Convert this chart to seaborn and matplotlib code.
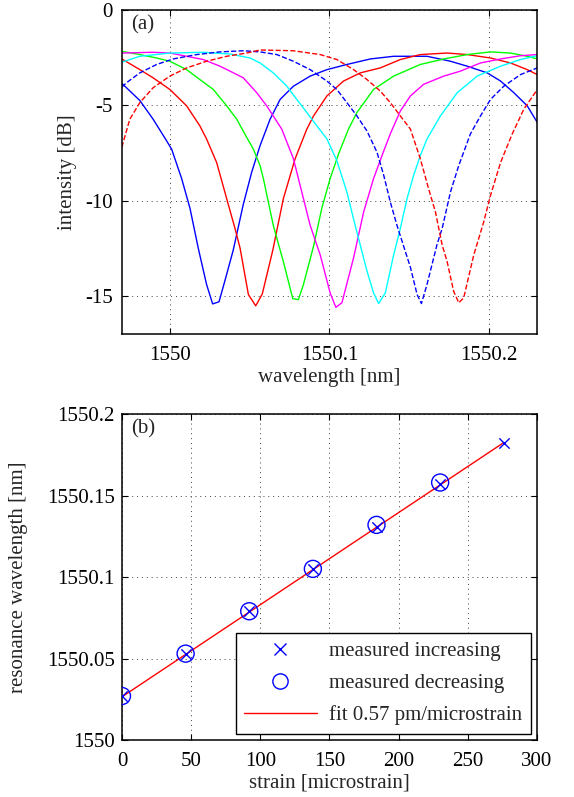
import numpy as np
import pandas as pd
import matplotlib
matplotlib.use("Agg")
import matplotlib.pyplot as plt
from matplotlib.ticker import FuncFormatter, FixedLocator
from matplotlib.lines import Line2D
import seaborn as sns

# ---------------- data: panel (a) spectra (wavelength nm, intensity dB) ----------------
blue_wl = [1549.9699, 1549.9812, 1549.9895, 1549.9966, 1550.0011, 1550.0074, 1550.0126, 1550.0178,
           1550.0230, 1550.0268, 1550.0308, 1550.0345, 1550.0397, 1550.0460, 1550.0513, 1550.0565,
           1550.0628, 1550.0691, 1550.0774, 1550.0879, 1550.0984, 1550.1109, 1550.1256, 1550.1402,
           1550.1611, 1550.1758, 1550.1863, 1550.1988, 1550.2072, 1550.2155, 1550.2239, 1550.2302]
blue_db = [-3.85, -4.75, -5.73, -6.68, -7.30, -8.85, -10.40, -12.50,
           -14.40, -15.42, -15.31, -14.20, -12.60, -10.20, -8.50, -7.12,
           -5.73, -4.69, -4.00, -3.47, -3.13, -2.86, -2.57, -2.43,
           -2.43, -2.69, -2.95, -3.30, -3.73, -4.34, -5.03, -5.90]

red_wl = [1549.9699, 1549.9812, 1549.9895, 1550.0000, 1550.0105, 1550.0188, 1550.0230, 1550.0293,
          1550.0356, 1550.0408, 1550.0440, 1550.0492, 1550.0538, 1550.0579, 1550.0645, 1550.0711,
          1550.0785, 1550.0858, 1550.0900, 1550.0984, 1550.1088, 1550.1193, 1550.1318, 1550.1444,
          1550.1569, 1550.1737, 1550.1863, 1550.2009, 1550.2134, 1550.2239, 1550.2302]
red_db = [-2.57, -3.13, -3.56, -4.17, -5.03, -6.08, -6.77, -8.00,
          -9.90, -11.46, -12.50, -14.93, -15.52, -14.90, -12.60, -9.90,
          -7.80, -6.25, -5.56, -4.51, -3.73, -3.30, -3.04, -2.60,
          -2.34, -2.26, -2.34, -2.52, -2.78, -3.13, -3.39]

green_wl = [1549.9699, 1549.9812, 1549.9917, 1550.0000, 1550.0105, 1550.0188, 1550.0272, 1550.0356,
            1550.0419, 1550.0476, 1550.0523, 1550.0565, 1550.0586, 1550.0648, 1550.0711, 1550.0770,
            1550.0805, 1550.0837, 1550.0900, 1550.0952, 1550.1004, 1550.1057, 1550.1119, 1550.1172,
            1550.1276, 1550.1402, 1550.1569, 1550.1716, 1550.1863, 1550.2009, 1550.2134, 1550.2239,
            1550.2302]
green_db = [-2.17, -2.34, -2.52, -2.69, -3.13, -3.65, -4.17, -5.03,
            -5.73, -6.60, -7.30, -8.16, -8.85, -11.30, -13.20, -15.14,
            -15.20, -14.40, -12.40, -10.40, -8.85, -7.55, -6.25, -5.38,
            -4.17, -3.47, -2.86, -2.57, -2.34, -2.20, -2.26, -2.43,
            -2.57]

magenta_wl = [1549.9699, 1549.9895, 1550.0000, 1550.0105, 1550.0209, 1550.0314, 1550.0377, 1550.0460,
              1550.0544, 1550.0607, 1550.0701, 1550.0774, 1550.0837, 1550.0879, 1550.0942, 1550.1004,
              1550.1040, 1550.1078, 1550.1151, 1550.1214, 1550.1276, 1550.1329, 1550.1381, 1550.1444,
              1550.1507, 1550.1590, 1550.1716, 1550.1820, 1550.1946, 1550.2072, 1550.2197, 1550.2302]
magenta_db = [-2.26, -2.22, -2.26, -2.43, -2.60, -2.95, -3.21, -3.56,
              -4.34, -5.03, -6.25, -7.80, -9.90, -11.30, -12.85, -14.84,
              -15.60, -15.36, -13.00, -10.60, -8.85, -7.64, -6.50, -5.30,
              -4.51, -3.90, -3.47, -3.21, -2.78, -2.57, -2.40, -2.34]

cyan_wl = [1549.9699, 1549.9812, 1550.0000, 1550.0209, 1550.0377, 1550.0502, 1550.0565, 1550.0648,
           1550.0733, 1550.0795, 1550.0858, 1550.0921, 1550.0984, 1550.1046, 1550.1109, 1550.1161,
           1550.1235, 1550.1276, 1550.1308, 1550.1350, 1550.1402, 1550.1444, 1550.1486, 1550.1527,
           1550.1569, 1550.1611, 1550.1695, 1550.1800, 1550.1925, 1550.2072, 1550.2197, 1550.2302]
cyan_db = [-2.74, -2.43, -2.26, -2.22, -2.31, -2.52, -2.78, -3.30,
           -4.00, -4.69, -5.38, -6.08, -6.77, -7.90, -9.55, -11.30,
           -13.70, -14.84, -15.40, -14.84, -12.85, -11.46, -9.90, -8.68,
           -7.64, -6.77, -5.56, -4.34, -3.47, -2.95, -2.60, -2.40]

bluedash_wl = [1549.9699, 1549.9728, 1549.9812, 1549.9917, 1550.0021, 1550.0168, 1550.0314, 1550.0460,
               1550.0565, 1550.0670, 1550.0774, 1550.0879, 1550.0984, 1550.1046, 1550.1109, 1550.1172,
               1550.1235, 1550.1298, 1550.1340, 1550.1381, 1550.1423, 1550.1507, 1550.1549, 1550.1576,
               1550.1611, 1550.1674, 1550.1706, 1550.1758, 1550.1810, 1550.1883, 1550.1946, 1550.2009,
               1550.2092, 1550.2197, 1550.2302]
bluedash_db = [-4.05, -3.82, -3.30, -2.86, -2.57, -2.34, -2.20, -2.14,
               -2.20, -2.34, -2.69, -3.13, -3.73, -4.17, -4.86, -5.56,
               -6.35, -7.47, -8.68, -10.07, -11.30, -13.50, -14.93, -15.40,
               -14.40, -12.30, -11.46, -9.55, -8.16, -6.50, -5.56, -4.69,
               -4.00, -3.39, -3.04]

reddash_wl = [1549.9699, 1549.9749, 1549.9812, 1549.9895, 1550.0000, 1550.0105, 1550.0230, 1550.0356,
              1550.0481, 1550.0565, 1550.0774, 1550.0942, 1550.1046, 1550.1151, 1550.1235, 1550.1318,
              1550.1381, 1550.1444, 1550.1507, 1550.1569, 1550.1621, 1550.1664, 1550.1706, 1550.1737,
              1550.1778, 1550.1810, 1550.1841, 1550.1904, 1550.1967, 1550.2009, 1550.2072, 1550.2145,
              1550.2218, 1550.2302]
reddash_db = [-7.20, -5.73, -4.86, -4.08, -3.47, -3.04, -2.69, -2.43,
              -2.26, -2.10, -2.14, -2.34, -2.60, -3.13, -3.65, -4.25,
              -4.86, -5.56, -6.25, -7.80, -9.38, -10.60, -12.33, -13.20,
              -14.76, -15.36, -15.10, -12.85, -11.10, -9.72, -8.00, -6.50,
              -5.20, -4.17]

# ---------------- data: panel (b) ----------------
strain_inc = [0, 46, 92, 138, 184, 230, 276]
wl_inc = [1550.027, 1550.053, 1550.079, 1550.105, 1550.131, 1550.157, 1550.182]
strain_dec = [0, 46, 92, 138, 184, 230]
wl_dec = [1550.027, 1550.053, 1550.079, 1550.105, 1550.132, 1550.158]
fit_strain = [0, 276]
fit_wl = [1550.0265, 1550.1825]

legend_labels = ["measured increasing", "measured decreasing", "fit 0.57 pm/microstrain"]

# ---------------- style ----------------
sns.set_theme(style="ticks")
plt.rcParams["font.family"] = ["Liberation Serif", "DejaVu Serif"]
plt.rcParams["axes.unicode_minus"] = False
plt.rcParams["font.size"] = 15
plt.rcParams["axes.labelsize"] = 15
plt.rcParams["xtick.labelsize"] = 15
plt.rcParams["ytick.labelsize"] = 15
plt.rcParams["legend.fontsize"] = 15

fig = plt.figure(figsize=(5.74, 7.97), dpi=100)
ax1 = fig.add_axes([0.2125, 0.5809, 0.7230, 0.4066])
ax2 = fig.add_axes([0.2125, 0.0715, 0.7230, 0.4090])

grid_kw = dict(color="0.25", linestyle=(0, (1, 4)), linewidth=0.7)


def style_axes(ax):
    for s in ax.spines.values():
        s.set_linewidth(1.1)
        s.set_color("black")
        s.set_visible(True)
    ax.tick_params(direction="in", top=True, right=True, length=4, width=0.8,
                   colors="black", labelcolor="black")
    ax.tick_params(axis="x", pad=8.5)
    ax.tick_params(axis="y", pad=6.5)
    ax.grid(True, **grid_kw)
    ax.set_axisbelow(True)


fmt = FuncFormatter(lambda v, p: "%g" % round(v, 6))

# ---------------- panel (a) ----------------
curves = [
    (blue_wl, blue_db, "#0000ff", "-"),
    (red_wl, red_db, "#ff0000", "-"),
    (green_wl, green_db, "#00ff00", "-"),
    (magenta_wl, magenta_db, "#ff00ff", "-"),
    (cyan_wl, cyan_db, "#00ffff", "-"),
    (bluedash_wl, bluedash_db, "#0000ff", "--"),
    (reddash_wl, reddash_db, "#ff0000", "--"),
]
for wl, db, col, ls in curves:
    df = pd.DataFrame({"wavelength": wl, "dB": db})
    sns.lineplot(data=df, x="wavelength", y="dB", ax=ax1, color=col,
                 linewidth=1.0, estimator=None, sort=False,
                 linestyle=ls, **({"dashes": (4, 2.5)} if ls == "--" else {}))

ax1.set_xlim(1549.97, 1550.23)
ax1.set_ylim(-17, 0)
ax1.xaxis.set_major_locator(FixedLocator([1550.0, 1550.1, 1550.2]))
ax1.yaxis.set_major_locator(FixedLocator([-15, -10, -5, 0]))
ax1.xaxis.set_major_formatter(fmt)
ax1.yaxis.set_major_formatter(fmt)
style_axes(ax1)
ax1.set_xlabel("wavelength [nm]", labelpad=2)
ax1.set_ylabel("intensity [dB]", labelpad=6)
ax1.text(0.022, 0.985, "(a)", transform=ax1.transAxes, ha="left", va="top", fontsize=15)

# ---------------- panel (b) ----------------
dfit = pd.DataFrame({"strain": fit_strain, "wl": fit_wl})
sns.lineplot(data=dfit, x="strain", y="wl", ax=ax2, color="#ff0000", linewidth=1.0,
             estimator=None, sort=False)
dinc = pd.DataFrame({"strain": strain_inc, "wl": wl_inc})
sns.scatterplot(data=dinc, x="strain", y="wl", ax=ax2, marker="x", color="#0000ff",
                s=55, linewidth=1.0, zorder=3)
ddec = pd.DataFrame({"strain": strain_dec, "wl": wl_dec})
sns.scatterplot(data=ddec, x="strain", y="wl", ax=ax2, marker="o", facecolor="none",
                edgecolor="#0000ff", s=150, linewidth=1.0, zorder=3)

ax2.set_xlim(0, 300)
ax2.set_ylim(1550.0, 1550.2)
ax2.xaxis.set_major_locator(FixedLocator([0, 50, 100, 150, 200, 250, 300]))
ax2.yaxis.set_major_locator(FixedLocator([1550.0, 1550.05, 1550.1, 1550.15, 1550.2]))
ax2.xaxis.set_major_formatter(fmt)
ax2.yaxis.set_major_formatter(fmt)
style_axes(ax2)
ax2.tick_params(axis="y", pad=5)
ax2.set_xlabel("strain [microstrain]", labelpad=2)
ax2.set_ylabel("resonance wavelength [nm]", labelpad=14)
ax2.text(0.022, 0.985, "(b)", transform=ax2.transAxes, ha="left", va="top", fontsize=15)

handles = [
    Line2D([], [], linestyle="none", marker="x", color="#0000ff", markersize=8, markeredgewidth=1.0),
    Line2D([], [], linestyle="none", marker="o", markerfacecolor="none", markeredgecolor="#0000ff",
           markersize=11, markeredgewidth=1.0),
    Line2D([], [], color="#ff0000", linewidth=1.0),
]
leg = ax2.legend(handles, legend_labels, loc="lower right", frameon=True, fancybox=False,
                 framealpha=1, edgecolor="black", handlelength=3.5, handletextpad=0.6,
                 borderaxespad=0.3, labelspacing=0.6, borderpad=0.4)
leg.get_frame().set_linewidth(1.0)

fig.savefig("out.png", dpi=100)
